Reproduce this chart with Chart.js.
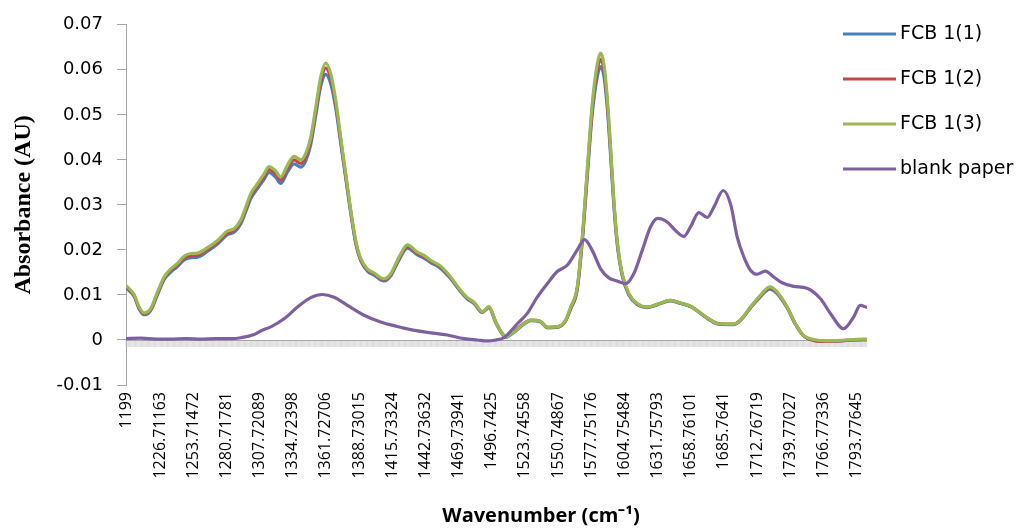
<!DOCTYPE html>
<html>
<head>
<meta charset="utf-8">
<script src="https://cdn.jsdelivr.net/npm/chart.js@4"></script>
<style>
  body { margin: 0; background: #fff; }
  canvas { display: block; }
</style>
</head>
<body>
<canvas id="spectrumChart" width="1022" height="528"></canvas>
<script>
// x axis tick labels (wavenumber, cm-1)
const tickLabels = [
  "1199", "1226.71163", "1253.71472", "1280.71781", "1307.72089",
  "1334.72398", "1361.72706", "1388.73015", "1415.73324", "1442.73632",
  "1469.73941", "1496.7425", "1523.74558", "1550.74867", "1577.75176",
  "1604.75484", "1631.75793", "1658.76101", "1685.7641", "1712.76719",
  "1739.77027", "1766.77336", "1793.77645"
];

const seriesNames = ["FCB 1(1)", "FCB 1(2)", "FCB 1(3)", "blank paper"];

// wavenumbers used by the three FCB samples
const fcbX = [
  1199.0, 1205.6, 1209.7, 1213.8, 1219.2, 1224.7, 1230.0, 1235.5, 1240.9, 1246.3,
  1251.8, 1257.2, 1265.4, 1273.5, 1281.6, 1287.0, 1292.5, 1296.5, 1300.6, 1306.0,
  1311.4, 1315.5, 1320.9, 1325.0, 1330.4, 1335.8, 1341.3, 1345.3, 1349.4, 1353.5,
  1357.5, 1361.6, 1365.7, 1369.8, 1373.8, 1377.9, 1382.0, 1386.0, 1390.1, 1395.5,
  1400.9, 1409.1, 1414.5, 1421.3, 1428.1, 1436.2, 1441.6, 1447.0, 1455.2, 1463.3,
  1471.4, 1476.9, 1482.3, 1489.1, 1494.5, 1500.0, 1505.4, 1508.1, 1514.8, 1523.0,
  1528.4, 1536.5, 1542.0, 1550.1, 1556.9, 1560.9, 1566.4, 1570.5, 1574.5, 1578.6,
  1582.7, 1585.4, 1588.1, 1590.8, 1593.5, 1596.2, 1598.9, 1603.0, 1608.4, 1615.2,
  1623.3, 1631.5, 1642.3, 1650.4, 1658.6, 1672.2, 1681.6, 1693.8, 1699.2, 1707.4,
  1715.5, 1723.1, 1729.1, 1737.3, 1744.0, 1750.8, 1758.9, 1769.8, 1780.6, 1791.4,
  1802.3
];

const fcb1 = [
  0.0116, 0.0097, 0.0069, 0.0056, 0.0066, 0.0101, 0.0134, 0.0151, 0.0163, 0.0178,
  0.0183, 0.0184, 0.0197, 0.0213, 0.0234, 0.0239, 0.0258, 0.0285, 0.0314, 0.0336,
  0.0357, 0.0372, 0.0361, 0.0348, 0.0373, 0.0391, 0.0384, 0.0398, 0.0434, 0.0499,
  0.0563, 0.0590, 0.0569, 0.0514, 0.0437, 0.0359, 0.0281, 0.0215, 0.0176, 0.0153,
  0.0144, 0.0131, 0.0142, 0.0178, 0.0204, 0.0189, 0.0182, 0.0172, 0.0159, 0.0136,
  0.0107, 0.0091, 0.0081, 0.0061, 0.0072, 0.0039, 0.0013, 0.0006, 0.0017, 0.0035,
  0.0043, 0.0040, 0.0027, 0.0028, 0.0042, 0.0068, 0.0112, 0.0219, 0.0361, 0.0502,
  0.0585, 0.0607, 0.0586, 0.0517, 0.0412, 0.0299, 0.0214, 0.0143, 0.0100, 0.0079,
  0.0072, 0.0078, 0.0087, 0.0081, 0.0074, 0.0048, 0.0035, 0.0034, 0.0043, 0.0071,
  0.0096, 0.0113, 0.0103, 0.0071, 0.0035, 0.0009, -0.0001, -0.0003, -0.0002, 0.0000,
  0.0001
];

const fcb2 = [
  0.0119, 0.0099, 0.0071, 0.0058, 0.0068, 0.0104, 0.0137, 0.0155, 0.0167, 0.0182,
  0.0188, 0.0189, 0.0201, 0.0217, 0.0238, 0.0243, 0.0263, 0.0290, 0.0320, 0.0342,
  0.0363, 0.0379, 0.0368, 0.0355, 0.0381, 0.0400, 0.0392, 0.0406, 0.0442, 0.0508,
  0.0573, 0.0604, 0.0581, 0.0524, 0.0444, 0.0364, 0.0285, 0.0218, 0.0178, 0.0156,
  0.0147, 0.0134, 0.0145, 0.0181, 0.0208, 0.0192, 0.0185, 0.0175, 0.0162, 0.0138,
  0.0109, 0.0093, 0.0083, 0.0062, 0.0073, 0.0040, 0.0014, 0.0007, 0.0019, 0.0037,
  0.0044, 0.0041, 0.0028, 0.0029, 0.0043, 0.0070, 0.0115, 0.0224, 0.0369, 0.0514,
  0.0600, 0.0623, 0.0600, 0.0529, 0.0421, 0.0305, 0.0218, 0.0145, 0.0102, 0.0080,
  0.0073, 0.0079, 0.0088, 0.0082, 0.0075, 0.0049, 0.0036, 0.0035, 0.0044, 0.0072,
  0.0098, 0.0116, 0.0105, 0.0072, 0.0036, 0.0009, -0.0001, -0.0003, -0.0002, 0.0000,
  0.0001
];

const fcb3 = [
  0.0121, 0.0101, 0.0073, 0.0060, 0.0070, 0.0107, 0.0140, 0.0158, 0.0170, 0.0186,
  0.0192, 0.0193, 0.0205, 0.0221, 0.0242, 0.0247, 0.0267, 0.0295, 0.0325, 0.0347,
  0.0369, 0.0385, 0.0375, 0.0362, 0.0388, 0.0408, 0.0400, 0.0414, 0.0450, 0.0517,
  0.0584, 0.0615, 0.0591, 0.0532, 0.0450, 0.0369, 0.0288, 0.0221, 0.0181, 0.0158,
  0.0149, 0.0136, 0.0147, 0.0184, 0.0211, 0.0195, 0.0188, 0.0177, 0.0164, 0.0140,
  0.0110, 0.0094, 0.0084, 0.0063, 0.0074, 0.0040, 0.0014, 0.0007, 0.0018, 0.0036,
  0.0044, 0.0041, 0.0028, 0.0029, 0.0044, 0.0072, 0.0118, 0.0229, 0.0377, 0.0525,
  0.0613, 0.0637, 0.0613, 0.0539, 0.0428, 0.0310, 0.0221, 0.0147, 0.0103, 0.0081,
  0.0073, 0.0079, 0.0088, 0.0082, 0.0075, 0.0049, 0.0036, 0.0035, 0.0044, 0.0073,
  0.0099, 0.0118, 0.0107, 0.0073, 0.0036, 0.0010, 0.0001, -0.0002, -0.0001, 0.0001,
  0.0002
];

// blank paper was read at its own wavenumbers
const blankX = [
  1199.0, 1211.1, 1223.3, 1235.5, 1247.7, 1259.9, 1272.1, 1284.3, 1292.5, 1303.3,
  1308.7, 1316.9, 1327.7, 1338.6, 1349.4, 1358.9, 1368.4, 1379.3, 1392.8, 1406.4,
  1419.9, 1430.8, 1441.6, 1452.5, 1460.6, 1474.2, 1485.0, 1493.2, 1500.0, 1506.7,
  1517.6, 1525.7, 1533.8, 1542.0, 1550.1, 1558.2, 1566.4, 1572.3, 1578.6, 1585.4,
  1592.1, 1598.9, 1605.7, 1612.4, 1619.3, 1626.0, 1632.0, 1639.6, 1646.4, 1653.1,
  1658.6, 1665.4, 1672.2, 1677.6, 1685.2, 1691.4, 1696.6, 1702.1, 1707.4, 1712.8,
  1719.5, 1726.3, 1733.2, 1742.6, 1753.5, 1764.3, 1772.5, 1783.3, 1791.4, 1796.8,
  1802.3
];

const blankPaper = [
  0.0003, 0.0004, 0.0002, 0.0002, 0.0003, 0.0002, 0.0003, 0.0003, 0.0005, 0.0012,
  0.0020, 0.0029, 0.0047, 0.0073, 0.0094, 0.0101, 0.0095, 0.0077, 0.0055, 0.0040,
  0.0030, 0.0023, 0.0018, 0.0014, 0.0011, 0.0003, 0.0000, -0.0002, 0.0000, 0.0005,
  0.0036, 0.0059, 0.0095, 0.0125, 0.0152, 0.0166, 0.0200, 0.0223, 0.0199, 0.0158,
  0.0138, 0.0131, 0.0125, 0.0147, 0.0199, 0.0251, 0.0270, 0.0262, 0.0243, 0.0230,
  0.0251, 0.0283, 0.0272, 0.0295, 0.0332, 0.0300, 0.0229, 0.0184, 0.0155, 0.0146,
  0.0153, 0.0140, 0.0127, 0.0119, 0.0115, 0.0092, 0.0059, 0.0025, 0.0051, 0.0077,
  0.0072
];

const colors = ["#4a7ebb", "#be4b48", "#98b954", "#7d60a0"];
const axisGray = "#a6a6a6";

function toPoints(xs, ys) {
  return xs.map((x, i) => ({ x: x, y: ys[i] }));
}

// zero line with the dense comb of category ticks, legend and x title
const excelLook = {
  id: "excelLook",
  beforeDatasetsDraw(chart) {
    const ctx = chart.ctx;
    const xs = chart.scales.x;
    const y0 = Math.round(chart.scales.y.getPixelForValue(0));
    ctx.save();
    ctx.strokeStyle = "#c4c4c4";
    ctx.lineWidth = 0.6;
    ctx.beginPath();
    for (let w = xs.min; w <= xs.max; w += 0.9644) {
      const px = xs.getPixelForValue(w);
      ctx.moveTo(px, y0);
      ctx.lineTo(px, y0 + 7);
    }
    ctx.stroke();
    ctx.strokeStyle = axisGray;
    ctx.lineWidth = 1;
    ctx.beginPath();
    ctx.moveTo(chart.chartArea.left, y0 + 0.5);
    ctx.lineTo(chart.chartArea.right, y0 + 0.5);
    ctx.stroke();
    ctx.restore();
  },
  afterDraw(chart) {
    const ctx = chart.ctx;
    ctx.save();
    ctx.font = "19px 'DejaVu Sans'";
    ctx.textBaseline = "middle";
    ctx.fillStyle = "#000";
    chart.data.datasets.forEach((ds, i) => {
      const y = 34 + i * 45;
      ctx.strokeStyle = ds.borderColor;
      ctx.lineWidth = 3;
      ctx.beginPath();
      ctx.moveTo(843, y);
      ctx.lineTo(896, y);
      ctx.stroke();
      ctx.fillText(ds.label, 900, y);
    });
    ctx.font = "bold 20px 'Open Sans'";
    ctx.textAlign = "center";
    ctx.fillText("Wavenumber (cm\u207B\u00B9)", 541, 516);
    ctx.restore();
  }
};

const ctx = document.getElementById("spectrumChart").getContext("2d");
new Chart(ctx, {
  type: "line",
  data: {
    datasets: [
      { label: seriesNames[0], data: toPoints(fcbX, fcb1), borderColor: colors[0], order: 3 },
      { label: seriesNames[1], data: toPoints(fcbX, fcb2), borderColor: colors[1], order: 2 },
      { label: seriesNames[2], data: toPoints(fcbX, fcb3), borderColor: colors[2], order: 1 },
      { label: seriesNames[3], data: toPoints(blankX, blankPaper), borderColor: colors[3], order: 0 },
    ],
  },
  options: {
    responsive: false,
    animation: false,
    layout: { padding: { top: 24, right: 155, left: 0, bottom: 0 } },
    elements: {
      point: { radius: 0 },
      line: { borderWidth: 3.2, cubicInterpolationMode: "monotone", fill: false },
    },
    plugins: {
      legend: { display: false },
      tooltip: { enabled: false },
    },
    scales: {
      x: {
        type: "linear",
        min: 1199,
        max: 1802.3,
        grid: { display: false, drawTicks: false },
        border: { display: false },
        afterBuildTicks: (scale) => {
          scale.ticks = tickLabels.map((t) => ({ value: parseFloat(t) }));
        },
        afterFit: (scale) => {
          scale.height = 143;
        },
        ticks: {
          autoSkip: false,
          minRotation: 90,
          maxRotation: 90,
          padding: 7,
          color: "#000",
          font: { family: "'Open Sans'", size: 16 },
          callback: (value, index) => tickLabels[index],
        },
      },
      y: {
        min: -0.01,
        max: 0.07,
        grid: { drawOnChartArea: false, color: axisGray, tickLength: 9 },
        border: { color: axisGray },
        afterFit: (scale) => {
          scale.width = 126;
        },
        ticks: {
          stepSize: 0.01,
          padding: 14,
          color: "#000",
          font: { family: "'DejaVu Sans'", size: 18 },
          callback: (v) => (Math.abs(v) < 1e-9 ? "0" : v.toFixed(2)),
        },
        title: {
          display: true,
          text: "Absorbance (AU)",
          color: "#000",
          padding: { top: 9, bottom: 0 },
          font: { family: "'Liberation Serif'", size: 24, weight: "bold" },
        },
      },
    },
  },
  plugins: [excelLook],
});
</script>
</body>
</html>
